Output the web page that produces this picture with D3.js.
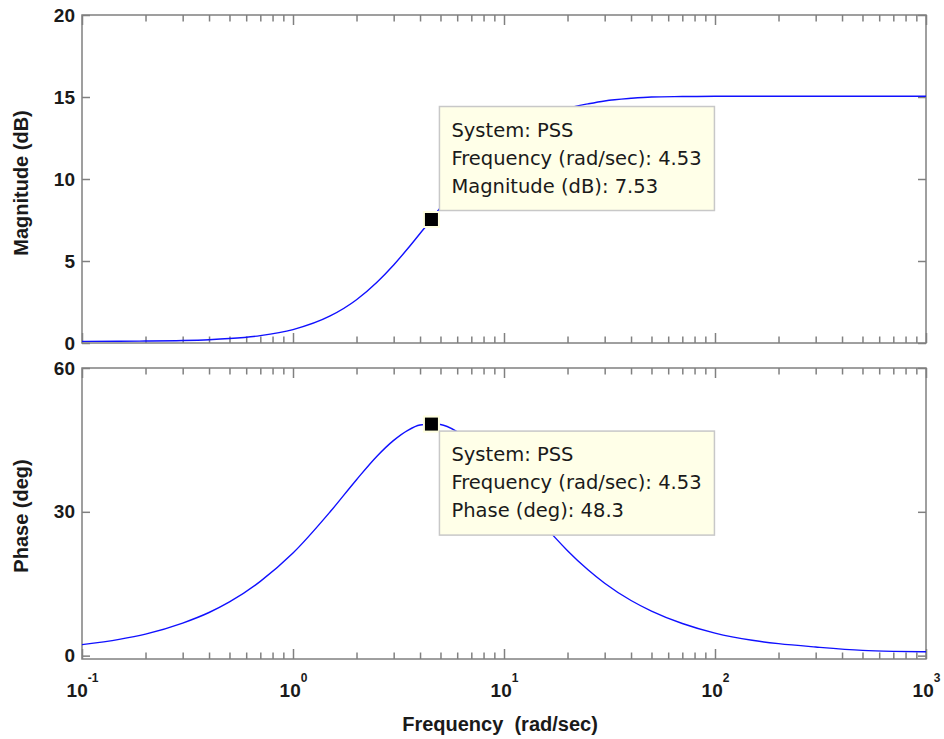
<!DOCTYPE html>
<html>
<head>
<meta charset="utf-8">
<script src="https://cdn.jsdelivr.net/npm/d3@7"></script>
<style>
body { margin: 0; background: #fff; }
svg { display: block; }
.lbl { font-family: "Liberation Sans", Arial, sans-serif; font-weight: bold; fill: #1a1a1a; }
.tip text { font-family: "DejaVu Sans", sans-serif; font-size: 19.5px; fill: #1a1a1a; }
</style>
</head>
<body>
<svg class="bode" width="944" height="739"></svg>
<script>
// values
const freqs = [0.1, 0.15, 0.2, 0.3, 0.4, 0.5, 0.7, 1, 1.5, 2, 2.5, 3, 3.5, 4, 4.53, 5, 6, 7, 8, 10,
    12, 15, 20, 25, 30, 40, 50, 70, 100, 150, 200, 300, 500, 700, 1000]
const magDb = [0.1, 0.11, 0.12, 0.15, 0.2, 0.27, 0.45, 0.82, 1.65, 2.64, 3.71, 4.76, 5.76, 6.68, 7.53, 8.27, 9.52, 10.51, 11.28, 12.38,
    13.09, 13.75, 14.32, 14.58, 14.76, 14.92, 15.0, 15.03, 15.05, 15.05, 15.05, 15.05, 15.05, 15.05, 15.05]
const phaseDeg = [2.3, 3.4, 4.5, 6.8, 9.0, 11.2, 15.5, 21.4, 30.0, 36.7, 41.6, 44.9, 47.0, 48.1, 48.3, 48.2, 46.7, 44.6, 42.1, 37.3,
    33.1, 27.9, 21.9, 17.9, 15.1, 11.5, 9.3, 6.7, 4.7, 3.2, 2.5, 1.8, 1.1, 0.9, 0.8]
const xMajor = [0.1, 1, 10, 100, 1000]
const magTicks = [0, 5, 10, 15, 20]
const phaseTicks = [0, 30, 60]
const markFreq = 4.53
const markMag = 7.53
const markPhase = 48.3
const magTip = ['System: PSS', 'Frequency (rad/sec): 4.53', 'Magnitude (dB): 7.53']
const phaseTip = ['System: PSS', 'Frequency (rad/sec): 4.53', 'Phase (deg): 48.3']

const svg = d3.select('.bode')
const xMinor = []
xMajor.slice(0, -1).forEach(d => {
    for (let k = 2; k < 10; k++) xMinor.push(d * k)
})

const xscale = d3.scaleLog().domain([0.1, 1000]).range([82, 926])
const ymag = d3.scaleLinear().domain([0, 20]).range([343, 15])
const yphase = d3.scaleLinear().domain([-0.7, 60]).range([659, 368])

const styleAxis = (g) => {
    g.select('.domain').remove()
    g.selectAll('line').attr('stroke', '#808080').attr('stroke-width', 1.5)
    g.selectAll('text').attr('class', 'lbl').attr('font-size', 19).attr('font-family', null)
}

const drawPanel = (y, yTicks, vals) => {
    const [y0, y1] = y.range()
    const g = svg.append('g')

    g.append('g').attr('transform', `translate(0,${y0})`)
        .call(d3.axisBottom(xscale).tickValues(xMajor).tickSizeInner(-10).tickSizeOuter(0).tickFormat(''))
        .call(styleAxis)
    g.append('g').attr('transform', `translate(0,${y0})`)
        .call(d3.axisBottom(xscale).tickValues(xMinor).tickSizeInner(-6.5).tickSizeOuter(0).tickFormat(''))
        .call(styleAxis)
    g.append('g').attr('transform', `translate(0,${y1})`)
        .call(d3.axisTop(xscale).tickValues(xMajor).tickSizeInner(-10).tickSizeOuter(0).tickFormat(''))
        .call(styleAxis)
    g.append('g').attr('transform', `translate(0,${y1})`)
        .call(d3.axisTop(xscale).tickValues(xMinor).tickSizeInner(-6.5).tickSizeOuter(0).tickFormat(''))
        .call(styleAxis)
    g.append('g').attr('transform', `translate(${xscale.range()[0]},0)`)
        .call(d3.axisLeft(y).tickValues(yTicks).tickSizeInner(-8).tickSizeOuter(0).tickPadding(7))
        .call(styleAxis)
    g.append('g').attr('transform', `translate(${xscale.range()[1]},0)`)
        .call(d3.axisRight(y).tickValues(yTicks).tickSizeInner(-8).tickSizeOuter(0).tickFormat(''))
        .call(styleAxis)

    g.append('rect')
        .attr('x', xscale.range()[0]).attr('y', y1)
        .attr('width', xscale.range()[1] - xscale.range()[0]).attr('height', y0 - y1)
        .attr('fill', 'none').attr('stroke', '#808080').attr('stroke-width', 1.5)

    const line = d3.line()
        .x((d, i) => xscale(freqs[i]))
        .y(d => y(d))
        .curve(d3.curveMonotoneX)
    g.append('path').datum(vals)
        .attr('d', line)
        .attr('fill', 'none')
        .attr('stroke', '#1010ff')
        .attr('stroke-width', 1.4)
    return g
}

const drawTip = (g, fx, vy, lines, above) => {
    const mx = xscale(fx), my = vy
    const bx = mx + 8, by = above ? my - 113 : my + 7
    g.append('rect')
        .attr('x', mx - 8.5).attr('y', my - 8.5)
        .attr('width', 17).attr('height', 17)
        .attr('fill', '#ffffe0')
    g.append('rect')
        .attr('x', mx - 6.5).attr('y', my - 6.5)
        .attr('width', 13).attr('height', 13)
        .attr('fill', '#000')
    const t = g.append('g').attr('class', 'tip')
    t.append('rect')
        .attr('x', bx).attr('y', by)
        .attr('width', 275).attr('height', 104)
        .attr('fill', '#ffffe8').attr('stroke', '#c8c8c8').attr('stroke-width', 1.5)
    t.selectAll('text').data(lines)
        .enter().append('text')
        .attr('x', bx + 12)
        .attr('y', (d, i) => by + 30 + i * 28)
        .text(d => d)
}

const gm = drawPanel(ymag, magTicks, magDb)
const gp = drawPanel(yphase, phaseTicks, phaseDeg)
drawTip(gm, markFreq, ymag(markMag), magTip, true)
drawTip(gp, markFreq, yphase(markPhase), phaseTip, false)

// decade labels under the phase panel
const xl = svg.append('g').attr('transform', `translate(0,${yphase.range()[0]})`)
    .call(d3.axisBottom(xscale).tickValues(xMajor).tickSize(0))
xl.select('.domain').remove()
xl.selectAll('text')
    .attr('class', 'lbl').attr('font-family', null).attr('font-size', 19)
    .attr('y', 38).attr('dy', null)
    .text('')
    .each(function (d) {
        const t = d3.select(this)
        t.append('tspan').text('10')
        t.append('tspan').attr('dy', -15).attr('font-size', 12).text(Math.round(Math.log10(d)))
    })

svg.append('text').attr('class', 'lbl').attr('font-size', 20)
    .attr('transform', 'translate(28,183) rotate(-90)')
    .attr('text-anchor', 'middle')
    .text('Magnitude (dB)')
svg.append('text').attr('class', 'lbl').attr('font-size', 20)
    .attr('transform', 'translate(28,516) rotate(-90)')
    .attr('text-anchor', 'middle')
    .text('Phase (deg)')
svg.append('text').attr('class', 'lbl').attr('font-size', 20)
    .attr('x', 500).attr('y', 731)
    .attr('text-anchor', 'middle')
    .style('white-space', 'pre')
    .text('Frequency  (rad/sec)')
</script>
</body>
</html>
